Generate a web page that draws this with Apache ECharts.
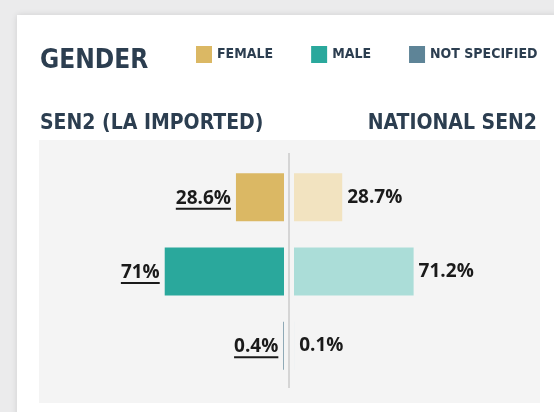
<!DOCTYPE html>
<html>
<head>
<meta charset="utf-8">
<script src="https://cdn.jsdelivr.net/npm/echarts@6/dist/echarts.min.js"></script>
<style>
  html, body { margin:0; padding:0; width:554px; height:412px; overflow:hidden; background:#ebebec; }
  #card { position:absolute; left:17px; top:15px; width:600px; height:500px; background:#fff; box-shadow:0 0 6px rgba(0,0,0,0.12); }
  #chart { position:absolute; left:0; top:0; width:554px; height:412px; }
</style>
</head>
<body>
<div id="card"></div>
<div id="chart"></div>
<script>
// ---- data ----
const categories = ['FEMALE', 'MALE', 'NOT SPECIFIED'];
const laValues = [28.6, 71, 0.4];
const nationalValues = [28.7, 71.2, 0.1];
const laLabels = ['28.6%', '71%', '0.4%'];
const nationalLabels = ['28.7%', '71.2%', '0.1%'];
const titleText = 'GENDER';
const leftHeading = 'SEN2 (LA IMPORTED)';
const rightHeading = 'NATIONAL SEN2';

// ---- styles ----
const darkColors = ['#dbb864', '#2aa89c', '#5e8497'];
const lightColors = ['#f2e3c0', '#abddd8', '#dce4e9'];
const navy = '#2c3e50';
const condensed = '"DejaVu Sans Condensed", sans-serif';
const labelFont = '"Open Sans", "Noto Sans", sans-serif';

const chart = echarts.init(document.getElementById('chart'), null, { renderer: 'canvas' });

function only(arr, i) { return arr.map((v, j) => (j === i ? v : '-')); }

const series = [];
categories.forEach((cat, i) => {
  series.push({
    name: cat, type: 'bar', xAxisIndex: 0, yAxisIndex: 0, stack: 'L',
    barWidth: 48, data: only(laValues, i),
    itemStyle: { color: darkColors[i] },
    label: {
      show: true, position: 'left', distance: 5,
      formatter: (p) => '{t|' + laLabels[p.dataIndex] + '}\n{u|}',
      rich: {
        t: { fontFamily: labelFont, fontWeight: 'bold', fontSize: 19, color: '#1a1a1a', lineHeight: 19, align: 'right' },
        u: { backgroundColor: '#1a1a1a', height: 2, width: '100%', lineHeight: 2, align: 'right' }
      },
      offset: [0, 2]
    },
    silent: true
  });
  series.push({
    name: cat, type: 'bar', xAxisIndex: 1, yAxisIndex: 1, stack: 'R',
    barWidth: 48, data: only(nationalValues, i),
    itemStyle: { color: lightColors[i] },
    label: {
      show: true, position: 'right', distance: 5,
      formatter: (p) => nationalLabels[p.dataIndex],
      fontFamily: labelFont, fontWeight: 'bold', fontSize: 19, color: '#1a1a1a'
    },
    silent: true
  });
});

const option = {
  animation: false,
  title: [
    { text: titleText, left: 35, top: 43, textStyle: { fontFamily: condensed, fontWeight: 'bold', fontSize: 26, color: navy } },
    { text: leftHeading, left: 35, top: 108, textStyle: { fontFamily: condensed, fontWeight: 'bold', fontSize: 21, color: navy } },
    { text: rightHeading, right: 12, top: 108, textStyle: { fontFamily: condensed, fontWeight: 'bold', fontSize: 21, color: navy } }
  ],
  legend: {
    left: 191, top: 41, width: 400, itemWidth: 16, itemHeight: 17, itemGap: 38, icon: 'rect',
    data: categories,
    textStyle: { fontFamily: condensed, fontWeight: 'bold', fontSize: 14, color: navy },
    selectedMode: false
  },
  graphic: [
    { type: 'rect', z: -10, shape: { x: 39, y: 140, width: 501, height: 263 }, style: { fill: '#f4f4f4' }, silent: true },
    { type: 'rect', z: -5, shape: { x: 288, y: 153, width: 2, height: 235 }, style: { fill: '#d5d5d5' }, silent: true }
  ],
  grid: [
    { left: 116, right: 270, top: 160, bottom: 29 },
    { left: 294, right: 92, top: 160, bottom: 29 }
  ],
  xAxis: [
    { gridIndex: 0, type: 'value', min: 0, max: 100, inverse: true, show: false },
    { gridIndex: 1, type: 'value', min: 0, max: 100, show: false }
  ],
  yAxis: [
    { gridIndex: 0, type: 'category', data: categories, inverse: true, show: false },
    { gridIndex: 1, type: 'category', data: categories, inverse: true, show: false }
  ],
  series: series
};
chart.setOption(option);
</script>
</body>
</html>
